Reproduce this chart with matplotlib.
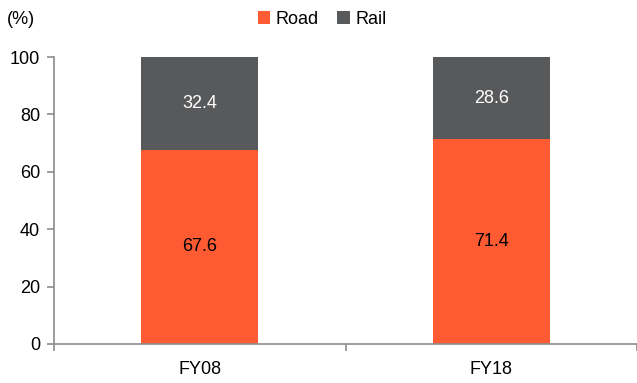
import matplotlib.pyplot as plt
import numpy as np

plt.rcParams['font.family'] = ['Liberation Sans', 'DejaVu Sans']

years = ["FY08", "FY18"]
road = [67.6, 71.4]
rail = [32.4, 28.6]

ROAD_C = "#FF5B33"
RAIL_C = "#58595B"
AXIS_C = "#8C8C8C"

fig = plt.figure(figsize=(6.37, 3.83), dpi=100)
ax = fig.add_axes([54 / 637, 39 / 383, 583 / 637, 287 / 383])

x = np.arange(len(years))
w = 0.40
b1 = ax.bar(x, road, w, color=ROAD_C, label="Road")
b2 = ax.bar(x, rail, w, bottom=road, color=RAIL_C, label="Rail")

for i in range(len(years)):
    ax.text(x[i], road[i] / 2, f"{road[i]:.1f}", ha="center", va="center",
            fontsize=13, color="black")
    ax.text(x[i], road[i] + rail[i] / 2, f"{rail[i]:.1f}", ha="center",
            va="center", fontsize=13, color="white")

ax.set_xlim(-0.5, 1.5)
ax.set_ylim(0, 100)
ax.set_yticks(range(0, 101, 20))
ax.set_xticks(x)
ax.set_xticklabels(years)
ax.set_xticks([-0.5, 0.5, 1.5], minor=True)
ax.tick_params(axis="x", which="major", length=0, pad=12, labelsize=13)
ax.tick_params(axis="x", which="minor", length=5, color=AXIS_C, width=1.2)
ax.tick_params(axis="y", length=5, color=AXIS_C, width=1.2, labelsize=13, pad=5)

for s in ["top", "right"]:
    ax.spines[s].set_visible(False)
for s in ["left", "bottom"]:
    ax.spines[s].set_color(AXIS_C)
    ax.spines[s].set_linewidth(1.2)

fig.text(7 / 637, 1 - 19 / 383, "(%)", fontsize=13, va="center", ha="left")
fig.legend(handles=[b1, b2], loc="center", bbox_to_anchor=(322 / 637, 1 - 19 / 383),
           ncol=2, frameon=False, fontsize=13, handlelength=0.7, handleheight=0.7,
           handletextpad=0.3, columnspacing=1.0)

fig.savefig("out.png", dpi=100)
